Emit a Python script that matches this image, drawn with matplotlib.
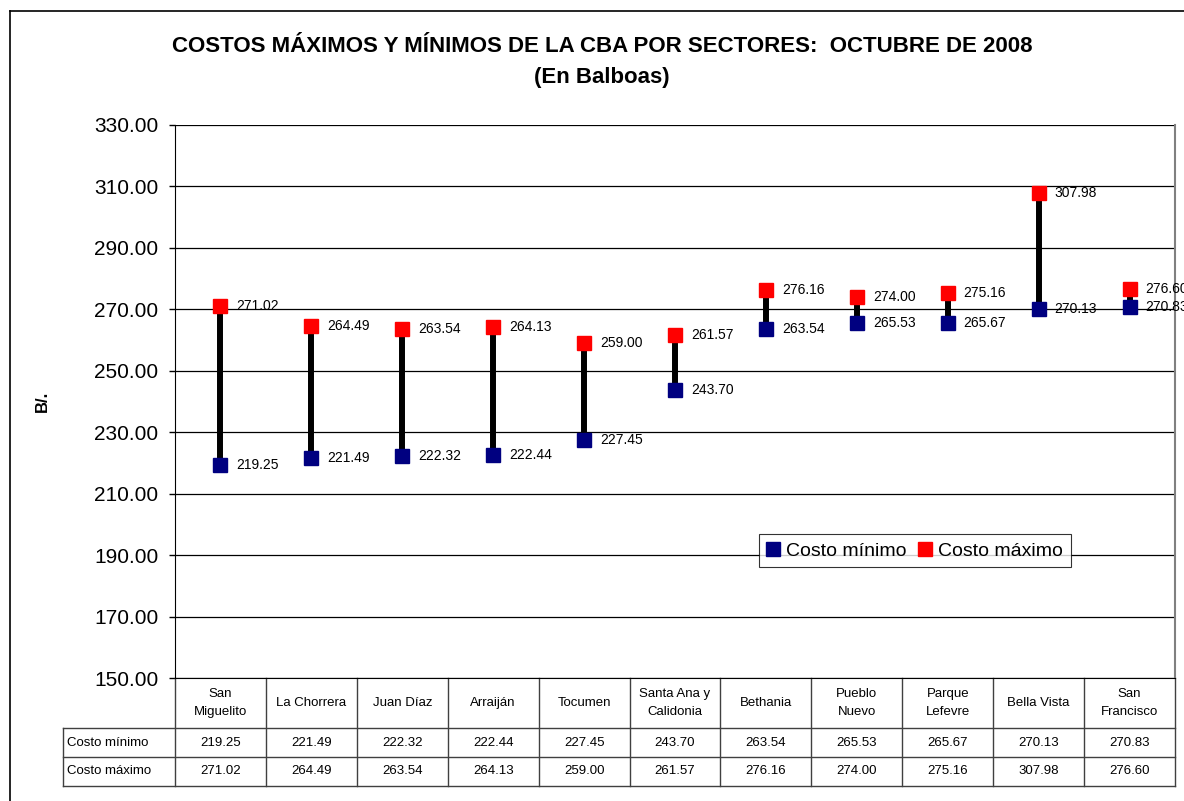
import matplotlib
matplotlib.use("Agg")
import matplotlib.pyplot as plt
import matplotlib.transforms as mtransforms
from matplotlib.lines import Line2D

plt.rcParams['font.family'] = ['Liberation Sans', 'DejaVu Sans']

sectores = ["San\nMiguelito", "La Chorrera", "Juan Díaz", "Arraiján", "Tocumen",
            "Santa Ana y\nCalidonia", "Bethania", "Pueblo\nNuevo", "Parque\nLefevre",
            "Bella Vista", "San\nFrancisco"]
costo_min = [219.25, 221.49, 222.32, 222.44, 227.45, 243.70, 263.54, 265.53, 265.67, 270.13, 270.83]
costo_max = [271.02, 264.49, 263.54, 264.13, 259.00, 261.57, 276.16, 274.00, 275.16, 307.98, 276.60]
y_ticks = [150, 170, 190, 210, 230, 250, 270, 290, 310, 330]

W, H = 1184, 801
fig = plt.figure(figsize=(W / 100, H / 100), dpi=100)
ax = fig.add_axes([175 / W, 1 - 678 / H, 1000 / W, 553 / H])

x = list(range(len(sectores)))
navy = '#000080'
red = '#FF0000'

# high-low lines
ax.vlines(x, costo_min, costo_max, color='black', lw=4.3, zorder=2)
ax.plot(x, costo_min, 's', color=navy, ms=10, ls='none', label='Costo mínimo', zorder=3)
ax.plot(x, costo_max, 's', color=red, ms=10, ls='none', label='Costo máximo', zorder=3)

for xi, lo, hi in zip(x, costo_min, costo_max):
    ax.annotate(f"{lo:.2f}", (xi, lo), xytext=(11.5, 0), textcoords='offset points',
                va='center', ha='left', fontsize=10, clip_on=False)
    ax.annotate(f"{hi:.2f}", (xi, hi), xytext=(11.5, 0), textcoords='offset points',
                va='center', ha='left', fontsize=10, clip_on=False)

ax.set_xlim(-0.5, len(sectores) - 0.5)
ax.set_ylim(150, 330)
ax.set_yticks(y_ticks)
ax.set_yticklabels([f"{v:.2f}" for v in y_ticks], fontsize=15)
ax.tick_params(axis='y', length=4, width=1, pad=8)
ax.set_xticks([])
ax.yaxis.grid(True, color='black', lw=0.9)
ax.set_axisbelow(True)
for s in ['top', 'bottom', 'left']:
    ax.spines[s].set_color('black')
ax.spines['right'].set_color('#808080')
ax.spines['right'].set_linewidth(1.5)
ax.spines['top'].set_visible(False)

ax.set_ylabel("B/.", fontsize=12, fontweight='bold')
ax.yaxis.set_label_coords(-0.125, 0.5)

leg = ax.legend(loc='center', bbox_to_anchor=(0.74, 0.23), ncol=2, fontsize=14,
                frameon=True, fancybox=False, edgecolor='black', handlelength=0.6,
                handletextpad=0.35, columnspacing=0.7, borderpad=0.4, markerscale=1.0)
leg.get_frame().set_linewidth(0.8)

# data table below the axes
tr = mtransforms.blended_transform_factory(ax.transData, ax.transAxes)
y_head = -50 / 553
y_r1 = -79 / 553
y_r2 = -108 / 553
lab_left = -112 / 1000
lc = '#404040'
for k in range(len(sectores) + 1):
    ax.add_line(Line2D([k - 0.5, k - 0.5], [0, y_r2], transform=tr, color=lc, lw=1, clip_on=False))
for yy in [y_head, y_r1, y_r2]:
    ax.add_line(Line2D([lab_left, 1], [yy, yy], transform=ax.transAxes, color=lc, lw=1, clip_on=False))
ax.add_line(Line2D([lab_left, lab_left], [y_head, y_r2], transform=ax.transAxes, color=lc, lw=1, clip_on=False))

for xi, name, lo, hi in zip(x, sectores, costo_min, costo_max):
    ax.text(xi, y_head / 2, name, transform=tr, ha='center', va='center', fontsize=9.5,
            linespacing=1.7)
    ax.text(xi, (y_head + y_r1) / 2, f"{lo:.2f}", transform=tr, ha='center', va='center', fontsize=9.5)
    ax.text(xi, (y_r1 + y_r2) / 2, f"{hi:.2f}", transform=tr, ha='center', va='center', fontsize=9.5)
ax.text(lab_left + 0.004, (y_head + y_r1) / 2, "Costo mínimo", transform=ax.transAxes,
        ha='left', va='center', fontsize=9.5)
ax.text(lab_left + 0.004, (y_r1 + y_r2) / 2, "Costo máximo", transform=ax.transAxes,
        ha='left', va='center', fontsize=9.5)

# titles
fig.text(602 / W, 1 - 47 / H, "COSTOS MÁXIMOS Y MÍNIMOS DE LA CBA POR SECTORES:  OCTUBRE DE 2008",
         ha='center', va='center', fontsize=16, fontweight='bold')
fig.text(602 / W, 1 - 78 / H, "(En Balboas)", ha='center', va='center', fontsize=16, fontweight='bold')

# outer chart frame
fig.add_artist(Line2D([10 / W, 10 / W], [0, 1 - 11 / H], color='black', lw=1.2))
fig.add_artist(Line2D([10 / W, 1], [1 - 11 / H, 1 - 11 / H], color='black', lw=1.2))

fig.savefig("out.png", dpi=100)
